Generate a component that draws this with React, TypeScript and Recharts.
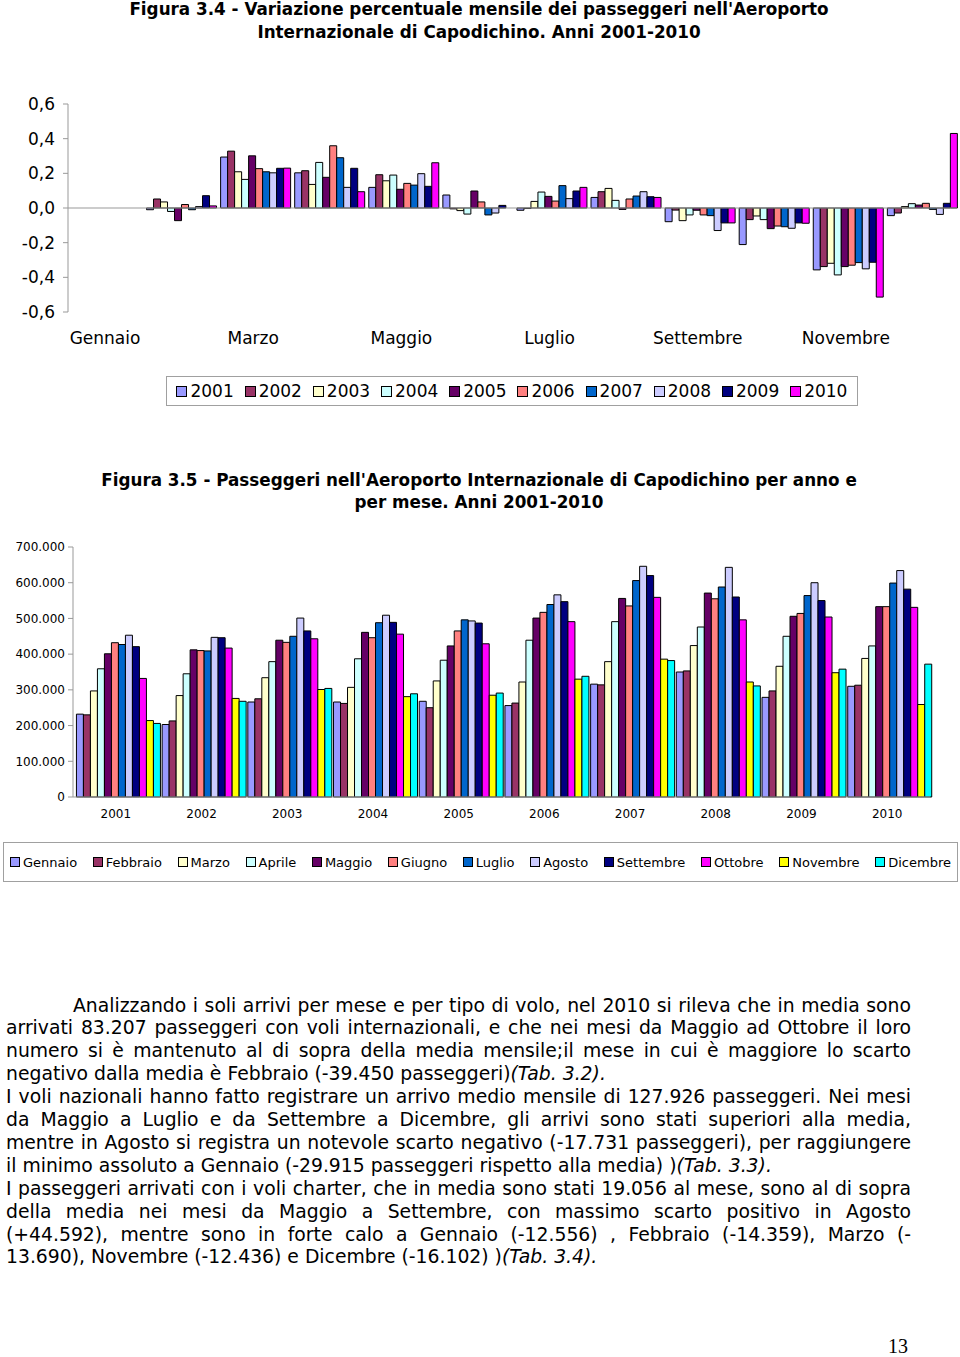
import React from 'react';
import { BarChart, Bar, XAxis, YAxis, ReferenceLine } from 'recharts';

const months = [
  'Gennaio', 'Febbraio', 'Marzo', 'Aprile', 'Maggio', 'Giugno',
  'Luglio', 'Agosto', 'Settembre', 'Ottobre', 'Novembre', 'Dicembre',
];
const years = ['2001', '2002', '2003', '2004', '2005', '2006', '2007', '2008', '2009', '2010'];

// Excel classic palette
const palette = [
  '#9999FF', '#993366', '#FFFFCC', '#CCFFFF', '#660066', '#FF8080',
  '#0066CC', '#CCCCFF', '#000080', '#FF00FF', '#FFFF00', '#00FFFF',
];

// Figura 3.4 - variazione percentuale sul mese precedente (per anno, Gen..Dic)
const var2001 = [null, -0.01, 0.294, 0.203, 0.119, 0.075, -0.013, 0.061, -0.079, -0.211, -0.357, -0.044];
const var2002 = [null, 0.052, 0.328, 0.215, 0.192, -0.005, -0.003, 0.094, -0.012, -0.067, -0.338, -0.029];
const var2003 = [null, 0.035, 0.209, 0.136, 0.157, -0.015, 0.038, 0.113, -0.073, -0.046, -0.319, 0.008];
const var2004 = [null, -0.02, 0.165, 0.263, 0.19, -0.035, 0.092, 0.044, -0.04, -0.067, -0.386, 0.025];
const var2005 = [null, -0.073, 0.301, 0.177, 0.108, 0.098, 0.067, -0.008, -0.013, -0.119, -0.338, 0.017];
const var2006 = [null, 0.02, 0.227, 0.359, 0.142, 0.035, 0.04, 0.052, -0.04, -0.104, -0.33, 0.027];
const var2007 = [null, -0.01, 0.209, 0.29, 0.132, -0.04, 0.129, 0.069, -0.044, -0.108, -0.315, -0.008];
const var2008 = [null, 0.008, 0.203, 0.119, 0.198, -0.029, 0.054, 0.094, -0.13, -0.117, -0.351, -0.037];
const var2009 = [null, 0.071, 0.229, 0.229, 0.125, 0.015, 0.098, 0.065, -0.086, -0.086, -0.313, 0.027];
const var2010 = [null, 0.012, 0.23, 0.094, 0.261, 0, 0.119, 0.061, -0.086, -0.088, -0.514, 0.43];
const varSeries = [var2001, var2002, var2003, var2004, var2005, var2006, var2007, var2008, var2009, var2010];
const varTicks = [-0.6, -0.4, -0.2, 0, 0.2, 0.4, 0.6];

// Figura 3.5 - passeggeri per mese (per mese, anni 2001..2010)
const paxGennaio = [232000, 203000, 266000, 266000, 268000, 256000, 316000, 350000, 279000, 310000];
const paxFebbraio = [230000, 213000, 275000, 262000, 250000, 263000, 314000, 353000, 297000, 313000];
const paxMarzo = [297000, 284000, 334000, 307000, 325000, 322000, 379000, 424000, 366000, 388000];
const paxAprile = [359000, 345000, 379000, 387000, 383000, 439000, 491000, 476000, 450000, 423000];
const paxMaggio = [401000, 412000, 439000, 461000, 423000, 501000, 556000, 571000, 506000, 533000];
const paxGiugno = [432000, 410000, 433000, 446000, 465000, 517000, 535000, 555000, 514000, 533000];
const paxLuglio = [427000, 409000, 450000, 488000, 496000, 539000, 606000, 588000, 564000, 599000];
const paxAgosto = [453000, 447000, 501000, 509000, 493000, 566000, 646000, 643000, 600000, 634000];
const paxSettembre = [421000, 446000, 465000, 489000, 487000, 547000, 620000, 560000, 550000, 582000];
const paxOttobre = [332000, 417000, 443000, 456000, 429000, 491000, 559000, 496000, 504000, 531000];
const paxNovembre = [214000, 276000, 301000, 281000, 285000, 330000, 386000, 322000, 348000, 259000];
const paxDicembre = [206000, 268000, 304000, 289000, 291000, 338000, 382000, 311000, 358000, 372000];
const paxSeries = [
  paxGennaio, paxFebbraio, paxMarzo, paxAprile, paxMaggio, paxGiugno,
  paxLuglio, paxAgosto, paxSettembre, paxOttobre, paxNovembre, paxDicembre,
];
const paxTicks = [0, 100000, 200000, 300000, 400000, 500000, 600000, 700000];

const varData = months.map((m, i) => {
  const row: any = { month: m };
  years.forEach((y, j) => { row[y] = varSeries[j][i]; });
  return row;
});

const paxData = years.map((y, j) => {
  const row: any = { year: y };
  months.forEach((m, i) => { row[m] = paxSeries[i][j]; });
  return row;
});

const font = '"DejaVu Sans", Verdana, sans-serif';
const fmtVar = (v: number) => v.toFixed(1).replace('.', ',');
const fmtPax = (v: number) => (v === 0 ? '0' : (v / 1000).toFixed(0) + '.000');

const LegendBox = ({ names, colors, style, fontSize, sq }: any) => (
  <div style={{
    position: 'absolute', border: '1px solid #a0a0a0', boxSizing: 'border-box',
    display: 'flex', alignItems: 'center', ...style,
  }}>
    {names.map((n: string, i: number) => (
      <span key={n} style={{ display: 'flex', alignItems: 'center', fontSize }}>
        <span style={{
          display: 'inline-block', width: sq, height: sq, background: colors[i],
          border: '1px solid #000', marginRight: 3, boxSizing: 'border-box',
        }} />
        {n}
      </span>
    ))}
  </div>
);

const lines = [
  { t: 'Analizzando i soli arrivi per mese e per tipo di volo, nel 2010 si rileva che in media sono', indent: true },
  { t: 'arrivati 83.207 passeggeri con voli internazionali, e che nei mesi da Maggio ad Ottobre il loro' },
  { t: 'numero si è mantenuto al di sopra della media mensile;il mese in cui è maggiore lo scarto' },
  { t: 'negativo dalla media è Febbraio (-39.450 passeggeri)', it: '(Tab. 3.2).', last: true },
  { t: 'I voli nazionali hanno fatto registrare un arrivo medio mensile di 127.926 passeggeri. Nei mesi' },
  { t: 'da Maggio a Luglio e da Settembre a Dicembre, gli arrivi sono stati superiori alla media,' },
  { t: 'mentre in Agosto si registra un notevole scarto negativo (-17.731 passeggeri), per raggiungere' },
  { t: 'il minimo assoluto a Gennaio (-29.915 passeggeri rispetto alla media) )', it: '(Tab. 3.3).', last: true },
  { t: 'I passeggeri arrivati con i voli charter, che in media sono stati 19.056 al mese, sono al di sopra' },
  { t: 'della media nei mesi da Maggio a Settembre, con massimo scarto positivo in Agosto' },
  { t: '(+44.592), mentre sono in forte calo a Gennaio (-12.556) , Febbraio (-14.359), Marzo (-' },
  { t: '13.690), Novembre (-12.436) e Dicembre (-16.102) )', it: '(Tab. 3.4).', last: true },
];

const titleStyle: any = {
  position: 'absolute', left: 0, width: 958, textAlign: 'center',
  fontWeight: 'bold', fontSize: 16.8, lineHeight: '22.5px',
};

export default function App() {
  return (
    <div style={{
      position: 'absolute', left: 0, top: 0, width: 960, height: 1357,
      background: '#fff', fontFamily: font, color: '#000', overflow: 'hidden',
    }}>
      <div style={{ ...titleStyle, top: -2 }}>
        Figura 3.4 - Variazione percentuale mensile dei passeggeri nell'Aeroporto<br />
        Internazionale di Capodichino. Anni 2001-2010
      </div>

      <div style={{ position: 'absolute', left: 0, top: 90 }}>
        <BarChart width={960} height={270} data={varData}
          margin={{ top: 14, right: 3, left: 0, bottom: 8 }}
          barCategoryGap="6%" barGap={0}>
          <XAxis dataKey="month" interval={1} axisLine={false} tickLine={false}
            tickMargin={14} height={40}
            tick={{ fontSize: 17, fill: '#000', fontFamily: font }} />
          <YAxis domain={[-0.6, 0.6]} ticks={varTicks} tickFormatter={fmtVar}
            width={68} tickSize={5} tickMargin={8} interval={0}
            axisLine={{ stroke: '#999' }} tickLine={{ stroke: '#999' }}
            tick={{ fontSize: 17, fill: '#000', fontFamily: font }} />
          <ReferenceLine y={0} stroke="#999" />
          {years.map((y, j) => (
            <Bar key={y} dataKey={y} fill={palette[j]} stroke="#000" strokeWidth={1}
              isAnimationActive={false} />
          ))}
        </BarChart>
      </div>

      <LegendBox names={years} colors={palette} fontSize={17} sq={11}
        style={{ left: 166, top: 376, width: 692, height: 30, justifyContent: 'space-around', padding: '0 4px' }} />

      <div style={{ ...titleStyle, top: 468.5 }}>
        Figura 3.5 - Passeggeri nell'Aeroporto Internazionale di Capodichino per anno e<br />
        per mese. Anni 2001-2010
      </div>

      <div style={{ position: 'absolute', left: 0, top: 530 }}>
        <BarChart width={960} height={300} data={paxData}
          margin={{ top: 17, right: 30, left: 0, bottom: 3 }}
          barCategoryGap="4%" barGap={0}>
          <XAxis dataKey="year" axisLine={{ stroke: '#999' }} tickLine={false}
            tickMargin={6} height={30}
            tick={{ fontSize: 12, fill: '#000', fontFamily: font }} />
          <YAxis domain={[0, 700000]} ticks={paxTicks} tickFormatter={fmtPax}
            width={73} tickSize={5} tickMargin={3} interval={0}
            axisLine={{ stroke: '#999' }} tickLine={{ stroke: '#999' }}
            tick={{ fontSize: 12, fill: '#000', fontFamily: font }} />
          {months.map((m, i) => (
            <Bar key={m} dataKey={m} fill={palette[i]} stroke="#000" strokeWidth={1}
              isAnimationActive={false} />
          ))}
        </BarChart>
      </div>

      <LegendBox names={months} colors={palette} fontSize={13} sq={10}
        style={{ left: 3, top: 842, width: 955, height: 40, justifyContent: 'space-between', padding: '0 6px' }} />

      <div style={{ position: 'absolute', left: 6, top: 994.5, width: 905, fontSize: 18.8, lineHeight: '22.9px' }}>
        {lines.map((l, k) => (
          <div key={k} style={{
            textAlign: 'justify', textAlignLast: l.last ? 'left' : 'justify',
            paddingLeft: l.indent ? 67 : 0, whiteSpace: 'nowrap',
          }}>
            {l.t}{l.it ? <i>{l.it}</i> : null}
          </div>
        ))}
      </div>

      <div style={{
        position: 'absolute', left: 888, top: 1335, fontFamily: '"Liberation Serif", serif', fontSize: 20,
      }}>13</div>
    </div>
  );
}
